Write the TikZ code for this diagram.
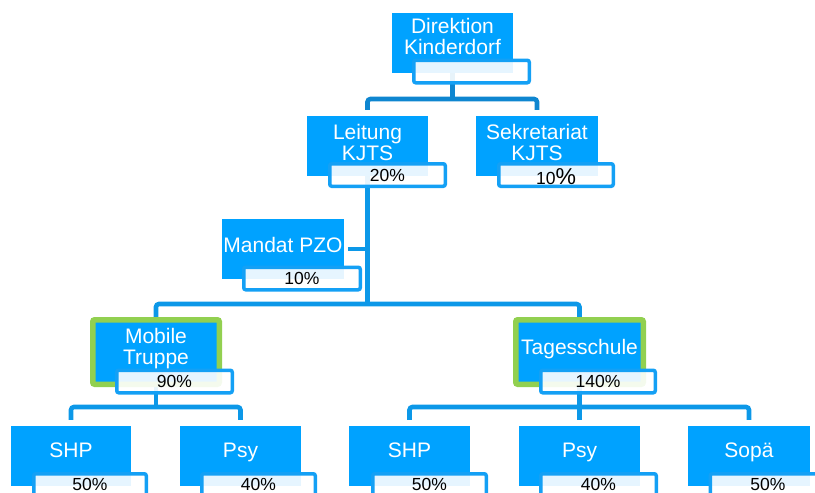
\documentclass[tikz,border=0pt]{standalone}
\usepackage{fontspec}
\setmainfont{Liberation Sans}
\usetikzlibrary{backgrounds}
\definecolor{boxblue}{RGB}{0,162,255}
\definecolor{lineblue}{RGB}{12,152,232}
\definecolor{lineblueB}{RGB}{14,134,208}
\definecolor{frameblue}{RGB}{20,160,245}
\definecolor{kgreen}{RGB}{146,208,80}
\tikzset{
 bluebox/.style={fill=boxblue, draw=none, inner sep=0pt, minimum width=#1, minimum height=60pt},
 bluebox/.default=121pt,
 greenbox/.style={fill=boxblue, draw=kgreen, line width=5.5pt, rounded corners=2pt, inner sep=0pt, minimum width=#1, minimum height=64.5pt},
 pctbox/.style={fill=white, fill opacity=0.9, draw=frameblue, draw opacity=1, line width=3.5pt, rounded corners=2pt, inner sep=0pt, minimum width=#1, minimum height=22.5pt},
 pctbox/.default=115.5pt,
 lbl/.style={text=white, font=\fontsize{21}{21}\selectfont, align=center, inner sep=0pt, text depth=0pt},
 pct/.style={text=black, font=\fontsize{17.5}{17.5}\selectfont, inner sep=0pt, text depth=0pt},
 conn/.style={draw=lineblue, line width=4.6pt, rounded corners=3pt},
 conntop/.style={conn, draw=lineblueB},
}
\begin{document}
\begin{tikzpicture}[x=1pt,y=-1pt]
\useasboundingbox (0,0) rectangle (815,493);
\clip (0,0) rectangle (815,493);
% level 0
\node[bluebox] (dir) at (452.5,43) {};
\node[pctbox] (dirp) at (471.5,71.5) {};
\node[lbl] (dirt) at (452.5,36.5) {Direktion\\Kinderdorf};
% level 1
\node[bluebox] (leit) at (367.5,146) {};
\node[pctbox] (leitp) at (387.5,175) {};
\node[lbl] (leitt) at (367.5,142.5) {Leitung\\KJTS};
\node[pct] (leitv) at (387.5,175) {20\%};
\node[bluebox=122pt] (sek) at (537,146) {};
\node[pctbox=114.5pt] (sekp) at (556,175) {};
\node[lbl] (sekt) at (537,142.5) {Sekretariat\\KJTS};
\node[pct, anchor=base, text depth=] (sekv) at (556,184) {10{\fontsize{23}{23}\selectfont\%}};
% Mandat
\node[bluebox=122pt] (mand) at (283,249) {};
\node[pctbox=116.5pt] (mandp) at (302,278.5) {};
\node[lbl] (mandt) at (283,244.5) {Mandat PZO};
\node[pct] (mandv) at (302,278.5) {10\%};
% level 2
\node[greenbox=126.5pt] (mob) at (156,352) {};
\node[pctbox] (mobp) at (174.5,381.5) {};
\node[lbl] (mobt) at (156,346.5) {Mobile\\Truppe};
\node[pct] (mobv) at (174.5,381.5) {90\%};
\node[greenbox=127.5pt] (tag) at (579.5,352) {};
\node[pctbox=114.5pt] (tagp) at (598,381.5) {};
\node[lbl] (tagt) at (579.5,346.5) {Tagesschule};
\node[pct] (tagv) at (598,381.5) {140\%};
% level 3
\node[bluebox=120pt] (shpl) at (71,456) {};
\node[pctbox=112.5pt] (shplp) at (90,485) {};
\node[lbl] (shplt) at (71,450.5) {SHP};
\node[pct] (shplv) at (90,484) {50\%};
\node[bluebox] (psyl) at (240.5,456) {};
\node[pctbox=113.5pt] (psylp) at (258.5,485) {};
\node[lbl] (psylt) at (240.5,450.5) {Psy};
\node[pct] (psylv) at (258.5,484) {40\%};
\node[bluebox] (shpr) at (409.5,456) {};
\node[pctbox=113.5pt] (shprp) at (429.5,485) {};
\node[lbl] (shprt) at (409.5,450.5) {SHP};
\node[pct] (shprv) at (429.5,484) {50\%};
\node[bluebox] (psyr) at (579.5,456) {};
\node[pctbox] (psyrp) at (598.5,485) {};
\node[lbl] (psyrt) at (579.5,450.5) {Psy};
\node[pct] (psyrv) at (598.5,484) {40\%};
\node[bluebox=122pt] (sopa) at (749,456) {};
\node[pctbox] (sopap) at (768,485) {};
\node[lbl] (sopat) at (749,450.5) {Sopä};
\node[pct] (sopav) at (768,484) {50\%};
% connectors
\begin{pgfonlayer}{background}
\coordinate (j1) at (452.5,99);
\coordinate (j2) at (368,304);
\coordinate (j3) at (0,407);
\draw[conntop] (dir.south) -- (j1);
\draw[conntop] ([yshift=6pt]leit.north) -- (leit.north |- j1) -- (sek.north |- j1) -- ([yshift=6pt]sek.north);
\draw[conn] (leit.south) -- (leit.south |- j2);
\draw[conn] ([xshift=4pt]mand.east) -- (mand.east -| leit.south);
\draw[conn] (mob.north) -- (mob.north |- j2) -- (tag.north |- j2) -- (tag.north);
\draw[conn] (mob.south) -- (mob.south |- j3);
\draw[conn] ([yshift=6pt]shpl.north) -- (shpl.north |- j3) -- (psyl.north |- j3) -- ([yshift=6pt]psyl.north);
\draw[conn] (tag.south) -- (tag.south |- j3);
\draw[conn] ([yshift=6pt]shpr.north) -- (shpr.north |- j3) -- (sopa.north |- j3) -- ([yshift=6pt]sopa.north);
\draw[conn] (psyr.north |- j3) -- ([yshift=6pt]psyr.north);
\end{pgfonlayer}
\end{tikzpicture}
\end{document}
